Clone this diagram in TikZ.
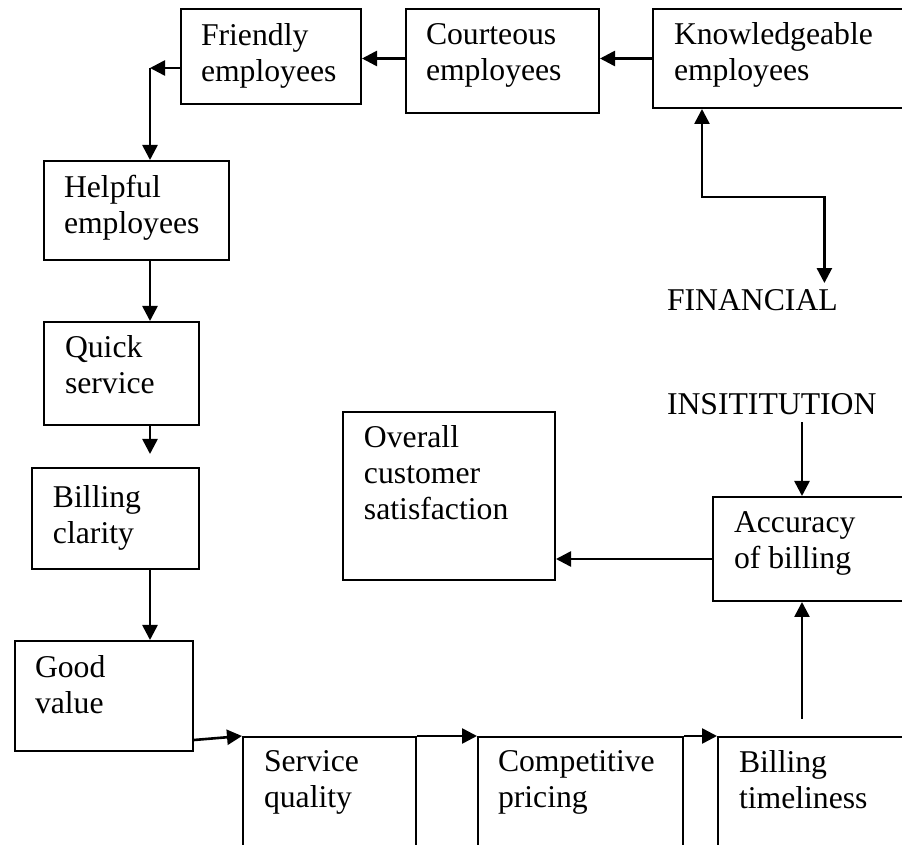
\documentclass[tikz,border=0pt]{standalone}
\usepackage{fontspec}
\setmainfont{Liberation Serif}
\usetikzlibrary{arrows.meta}
\usetikzlibrary{positioning}
\usetikzlibrary{calc}
\tikzstyle{chart}=[x=0.5pt, y=-0.5pt, line width=1pt, >={Triangle[length=7.5pt,width=7.5pt]}]
\tikzstyle{txt}=[anchor=north west, align=left, inner sep=0pt, execute at begin node=\strut]
\tikzstyle{word}=[anchor=base west, inner sep=3pt]
\tikzstyle{arr}=[->, line width=1.3pt]
\tikzset{box/.style 2 args={draw, anchor=north west, inner sep=0pt,
    minimum width=#1*0.5pt, minimum height=#2*0.5pt}}

\begin{document}
\begin{tikzpicture}[chart]
    \fontsize{15.85pt}{18pt}\selectfont
    \path [use as bounding box] (0,0) rectangle (902,845);
        % staff boxes along the top
        \node [box={180}{95}] (friend) at (180,8) {};
        \node [box={193}{104}] (court) at (405,8) {};
        \node [box={258}{99}] (know) at (652,8) {};
        % left column
        \node [box={185}{99}] (helpful) at (43,160) {};
        \node [box={155}{103}] (quick) at (43,321) {};
        \node [box={167}{101}] (bill) at (31,467) {};
        \node [box={178}{110}] (good) at (14,640) {};
        % bottom row, running off the page
        \node [box={173}{130}] (serv) at (242,736) {};
        \node [box={205}{130}] (comp) at (477,736) {};
        \node [box={193}{130}] (billtime) at (717,736) {};
        % right side
        \node [box={198}{104}] (acc) at (712,496) {};
        \node [box={212}{168}] (overall) at (342,411) {};

        % strut is 25px tall, so first baselines sit about 40px under the top edge
        \node [txt] (friend-t) at ($(friend.north west)+(20,15)$) {Friendly\\employees};
        \node [txt] (court-t) at ($(court.north west)+(20,15)$) {Courteous\\employees};
        \node [txt] (know-t) at ($(know.north west)+(21,14)$) {Knowledgeable\\employees};
        \node [txt] (helpful-t) at ($(helpful.north west)+(20,14)$) {Helpful\\employees};
        \node [txt] (quick-t) at ($(quick.north west)+(21,14)$) {Quick\\service};
        \node [txt] (bill-t) at ($(bill.north west)+(21,18)$) {Billing\\clarity};
        \node [txt] (good-t) at ($(good.north west)+(20,15)$) {Good\\value};
        \node [txt] (serv-t) at ($(serv.north west)+(21,14)$) {Service\\quality};
        \node [txt] (comp-t) at ($(comp.north west)+(20,14)$) {Competitive\\pricing};
        \node [txt] (billtime-t) at ($(billtime.north west)+(21,14)$) {Billing\\timeliness};
        \node [txt] (acc-t) at ($(acc.north west)+(21,15)$) {Accuracy\\of billing};
        \node [txt] (overall-t) at ($(overall.north west)+(21,14)$) {Overall\\customer\\satisfaction};
        \node [word] (fin) at (660,311) {FINANCIAL};
        \node [word] (inst) at (660,415) {INSITITUTION};

        % connectors
        \draw [arr] (know.west) -- (know.west -| court.east);
        \draw [arr] (know.west -| court.west) -- (know.west -| friend.east);
        \coordinate (fj) at (150,68);
        \draw [arr] (fj -| friend.west) -- (fj);
        \draw [arr] (fj) -- (fj |- helpful.north);
        \draw [arr] (fj |- helpful.south) -- (fj |- quick.north);
        \draw [arr] (fj |- quick.south) -- ($(fj |- bill.north)+(0,-13)$);
        \draw [arr] (fj |- bill.south) -- (fj |- good.north);
        \draw [arr] ($(good.south east)+(0,-12)$) -- (serv.north west);
        \draw [arr] (serv.north east) -- (comp.north west);
        \draw [arr] (comp.north east) -- (billtime.north west);
        \coordinate (accup) at ($(billtime.north west)+(85,-17)$);
        \draw [arr] (accup) -- (accup |- acc.south);
        \draw [arr] (inst.south -| accup) -- (accup |- acc.north);
        \draw [arr] ($(acc.south west)+(0,-43)$) coordinate (ao) -- (ao -| overall.east);
        \draw [arr, <->] ($(know.south west)+(50,0)$) -- ++(0,88) -| ($(fin.north)+(72,0)$);
    \end{tikzpicture}
\end{document}
